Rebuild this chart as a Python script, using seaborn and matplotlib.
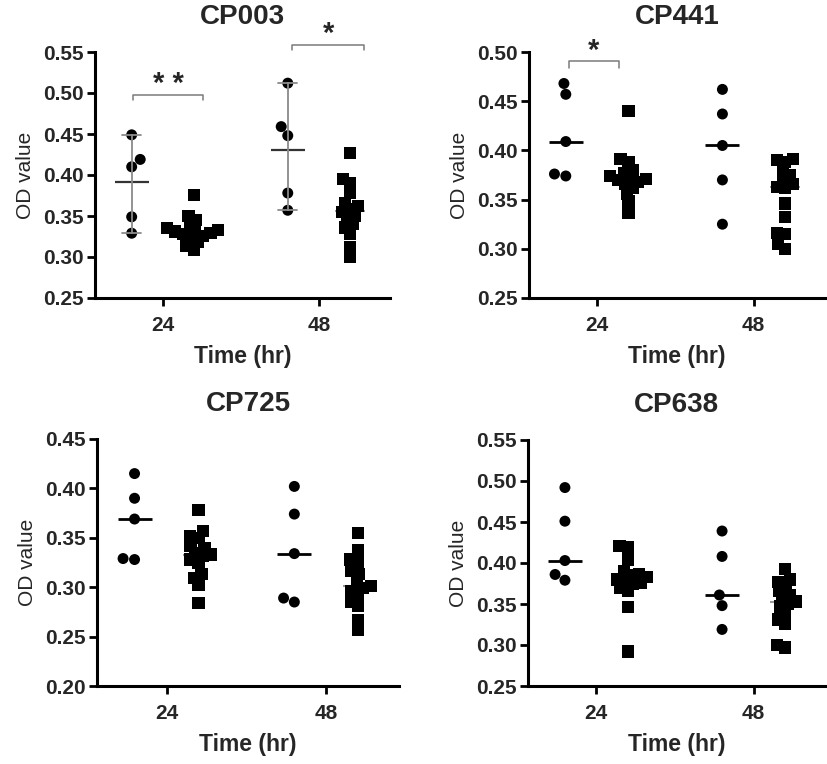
import pandas as pd
import matplotlib
matplotlib.use("Agg")
import matplotlib.pyplot as plt
import seaborn as sns

sns.set_style("ticks")
plt.rcParams["font.family"] = ["Liberation Sans", "DejaVu Sans"]

times = ["24", "48"]
groups = ["circle", "square"]

# CP003
cp003_circle_24 = [0.449, 0.410, 0.419, 0.349, 0.329]
cp003_square_24 = [0.376, 0.350, 0.345, 0.338, 0.335, 0.333, 0.331, 0.330,
                   0.329, 0.328, 0.326, 0.322, 0.318, 0.313, 0.309]
cp003_circle_48 = [0.512, 0.459, 0.448, 0.378, 0.357]
cp003_square_48 = [0.427, 0.395, 0.390, 0.378, 0.366, 0.362, 0.358, 0.355,
                   0.350, 0.347, 0.340, 0.336, 0.328, 0.312, 0.300]

# CP441
cp441_circle_24 = [0.468, 0.457, 0.409, 0.374, 0.376]
cp441_square_24 = [0.440, 0.391, 0.388, 0.380, 0.377, 0.374, 0.372, 0.371,
                   0.370, 0.368, 0.366, 0.362, 0.356, 0.348, 0.336]
cp441_circle_48 = [0.462, 0.437, 0.405, 0.370, 0.325]
cp441_square_48 = [0.391, 0.390, 0.388, 0.380, 0.375, 0.370, 0.366, 0.363,
                   0.362, 0.346, 0.332, 0.316, 0.315, 0.305, 0.300]

# CP725
cp725_circle_24 = [0.415, 0.390, 0.369, 0.328, 0.329]
cp725_square_24 = [0.378, 0.357, 0.352, 0.350, 0.342, 0.340, 0.335, 0.333,
                   0.332, 0.328, 0.325, 0.313, 0.309, 0.302, 0.284]
cp725_circle_48 = [0.402, 0.374, 0.334, 0.285, 0.289]
cp725_square_48 = [0.355, 0.338, 0.328, 0.325, 0.317, 0.313, 0.305, 0.301,
                   0.299, 0.296, 0.292, 0.285, 0.281, 0.267, 0.257]

# CP638
cp638_circle_24 = [0.492, 0.451, 0.403, 0.379, 0.386]
cp638_square_24 = [0.421, 0.419, 0.404, 0.390, 0.387, 0.385, 0.383, 0.380,
                   0.378, 0.376, 0.374, 0.370, 0.366, 0.346, 0.292]
cp638_circle_48 = [0.439, 0.408, 0.361, 0.348, 0.319]
cp638_square_48 = [0.393, 0.380, 0.377, 0.372, 0.366, 0.361, 0.357, 0.353,
                   0.350, 0.347, 0.339, 0.331, 0.326, 0.300, 0.297]

y_ticks_cp003 = [0.25, 0.30, 0.35, 0.40, 0.45, 0.50, 0.55]
y_ticks_cp441 = [0.25, 0.30, 0.35, 0.40, 0.45, 0.50]
y_ticks_cp725 = [0.20, 0.25, 0.30, 0.35, 0.40, 0.45]
y_ticks_cp638 = [0.25, 0.30, 0.35, 0.40, 0.45, 0.50, 0.55]

# squares are packed as a tight swarm, then drawn bigger so they overlap
SQUARE_SWARM_SIZE = 5.8
SQUARE_DRAW_SIZE = 8.8
square_collections = []


def build_frame(c24, s24, c48, s48):
    rows = []
    for t, g, vals in [("24", "circle", c24), ("24", "square", s24),
                       ("48", "circle", c48), ("48", "square", s48)]:
        for v in vals:
            rows.append({"time": t, "group": g, "od": v})
    return pd.DataFrame(rows)


def draw_panel(ax, df, title, yticks, estimator, errorbar, line_color, line_w, brackets):
    circ = df[df["group"] == "circle"]
    sq = df[df["group"] == "square"]
    common = dict(x="time", y="od", hue="group", hue_order=groups, order=times,
                  legend=False, ax=ax)

    # center lines (mean or median)
    sns.pointplot(data=circ, dodge=0.4, estimator=estimator, errorbar=errorbar,
                  palette=[line_color, line_color], markers="_", markersize=24,
                  markeredgewidth=line_w, linestyle="none", capsize=0.12,
                  err_kws={"linewidth": 1.3, "color": "#8a8a8a"}, **common)
    sns.pointplot(data=sq, dodge=0.4, estimator=estimator, errorbar=None,
                  palette=["#9a9a9a", "#9a9a9a"], markers="_", markersize=22,
                  markeredgewidth=1.5, linestyle="none", **common)

    sns.swarmplot(data=circ, dodge=True, palette=["black", "black"], marker="o",
                  size=7.9, zorder=1, **common)
    n_before = len(ax.collections)
    sns.swarmplot(data=sq, dodge=True, palette=["black", "black"], marker="s",
                  size=SQUARE_SWARM_SIZE, zorder=3, **common)
    square_collections.extend(ax.collections[n_before:])

    for x0, x1, ytop, ydrop, star, ystar in brackets:
        ax.plot([x0, x0, x1, x1], [ytop - ydrop, ytop, ytop, ytop - ydrop],
                color="#7a7a7a", lw=1.1, clip_on=False)
        ax.text((x0 + x1) / 2, ystar, star, ha="center", va="center",
                fontsize=21, fontweight="bold")

    ax.set_xlim(-0.435, 1.455)
    ax.set_ylim(yticks[0], yticks[-1])
    ax.set_yticks(yticks)
    ax.set_yticklabels([f"{v:.2f}" for v in yticks], fontweight="bold", fontsize=15)
    ax.set_xticks([0, 1])
    ax.set_xticklabels(times, fontweight="bold", fontsize=15)
    ax.set_title(title, fontsize=20, fontweight="bold", pad=20)
    ax.set_xlabel("Time (hr)", fontsize=16.5, fontweight="bold", labelpad=7)
    ax.set_ylabel("OD value", fontsize=15, labelpad=6)
    sns.despine(ax=ax)
    for side in ["left", "bottom"]:
        ax.spines[side].set_linewidth(2.2)
        ax.spines[side].set_color("black")
    ax.tick_params(axis="both", width=2, length=6, color="black")
    ax.tick_params(axis="x", pad=7)
    ax.tick_params(axis="y", pad=2)


fig = plt.figure(figsize=(8.27, 7.64), dpi=100)
W, H = 827, 764


def rect(left, right, top, bottom):
    return [left / W, 1 - bottom / H, (right - left) / W, (bottom - top) / H]


ax1 = fig.add_axes(rect(95, 390, 52, 298))
ax2 = fig.add_axes(rect(529, 825, 52, 298))
ax3 = fig.add_axes(rect(97, 399, 439, 686))
ax4 = fig.add_axes(rect(528, 825, 440, 686))

draw_panel(ax1, build_frame(cp003_circle_24, cp003_square_24, cp003_circle_48, cp003_square_48),
           "CP003", y_ticks_cp003, "mean", ("pi", 100), "#333333", 1.6,
           [(-0.19, 0.26, 0.498, 0.006, "* *", 0.511),
            (0.83, 1.29, 0.558, 0.006, "*", 0.572)])
draw_panel(ax2, build_frame(cp441_circle_24, cp441_square_24, cp441_circle_48, cp441_square_48),
           "CP441", y_ticks_cp441, "median", None, "black", 2.0,
           [(-0.18, 0.14, 0.4905, 0.007, "*", 0.501)])
draw_panel(ax3, build_frame(cp725_circle_24, cp725_square_24, cp725_circle_48, cp725_square_48),
           "CP725", y_ticks_cp725, "median", None, "black", 2.0, [])
draw_panel(ax4, build_frame(cp638_circle_24, cp638_square_24, cp638_circle_48, cp638_square_48),
           "CP638", y_ticks_cp638, "median", None, "black", 2.0, [])

# run the swarm layout once, then freeze it and enlarge the squares
fig.canvas.draw()
for coll in square_collections:
    if "draw" in coll.__dict__:
        del coll.__dict__["draw"]
    coll.set_sizes([SQUARE_DRAW_SIZE ** 2])

fig.savefig("out.png", dpi=100)
